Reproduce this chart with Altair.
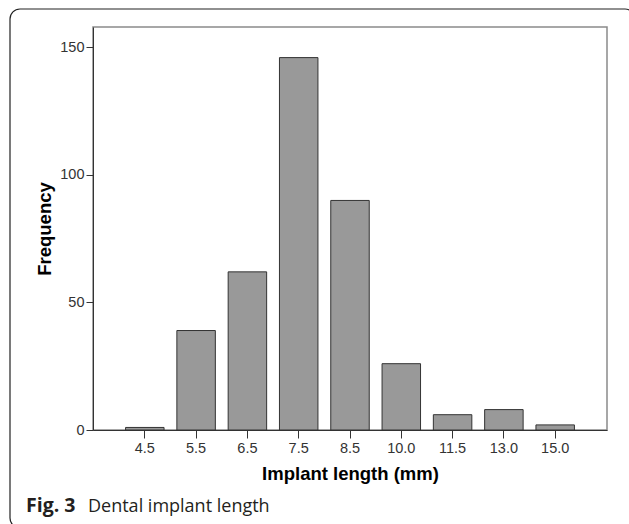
import altair as alt
import pandas as pd

lengths = ["4.5", "5.5", "6.5", "7.5", "8.5", "10.0", "11.5", "13.0", "15.0"]
counts = [1, 39, 62, 146, 90, 26, 6, 8, 2]
y_ticks = [0, 50, 100, 150]
x_title = "Implant length (mm)"
y_title = "Frequency"
cap_bold = "Fig. 3"
cap_text = "Dental implant length"

df = pd.DataFrame({"length": lengths, "count": counts})
deco = pd.DataFrame({"k": [0]})

W, H = 514, 403

bars = alt.Chart(df).mark_bar(
    fill="#999999", stroke="#333333", strokeWidth=1
).encode(
    x=alt.X(
        "length:N",
        sort=lengths,
        scale=alt.Scale(paddingInner=0.25, paddingOuter=0.635),
        axis=alt.Axis(
            title=x_title,
            labelAngle=0,
            labelFont="Liberation Sans",
            labelFontSize=14.5,
            labelColor="#333333",
            labelPadding=3,
            tickSize=8,
            tickColor="#333333",
            domainColor="#333333",
            titleFont="Liberation Sans",
            titleFontSize=18.5,
            titleFontWeight="bold",
            titleColor="#000000",
            titleY=49,
            titleBaseline="alphabetic",
        ),
    ),
    y=alt.Y(
        "count:Q",
        scale=alt.Scale(domain=[0, 158], nice=False),
        axis=alt.Axis(
            values=y_ticks,
            title=y_title,
            grid=False,
            labelFont="Liberation Sans",
            labelFontSize=14.5,
            labelColor="#333333",
            labelPadding=2,
            tickSize=7,
            tickColor="#333333",
            domainColor="#333333",
            titleFont="Liberation Sans",
            titleFontSize=18.5,
            titleFontWeight="bold",
            titleColor="#000000",
            titleX=-43,
            titleY=H / 2,
            titleBaseline="alphabetic",
        ),
    ),
)

border = alt.Chart(deco).mark_rect(
    fillOpacity=0, stroke="#222222", strokeWidth=1.2, cornerRadius=10, clip=False
).encode(
    x=alt.value(-83), x2=alt.value(542), y=alt.value(-18), y2=alt.value(501)
)

cap1 = alt.Chart(deco).mark_text(
    align="left", baseline="alphabetic", font="Open Sans", fontSize=19.5,
    fontWeight="bold", color="#231f20"
).encode(x=alt.value(-67), y=alt.value(485), text=alt.value(cap_bold))

cap2 = alt.Chart(deco).mark_text(
    align="left", baseline="alphabetic", font="Open Sans", fontSize=18,
    color="#231f20"
).encode(x=alt.value(-5), y=alt.value(485), text=alt.value(cap_text))

chart = alt.layer(bars, border, cap1, cap2).properties(
    width=W, height=H,
    autosize=alt.AutoSizeParams(type="none"),
    padding={"left": 93, "top": 27, "right": 22, "bottom": 94},
).configure_view(stroke="#8a8a8a", strokeWidth=1.5)

chart.save("out.html", embed_options={"renderer": "svg", "actions": False})
